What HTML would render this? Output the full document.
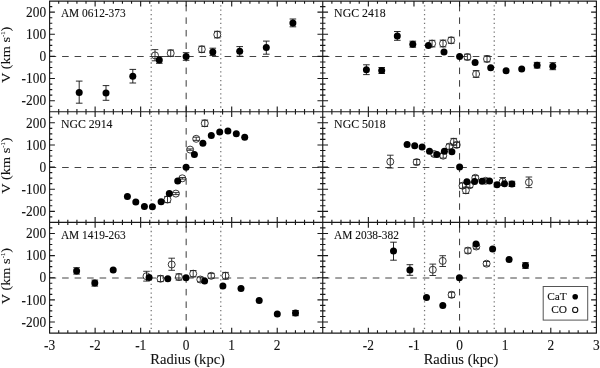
<!DOCTYPE html>
<html lang="en"><head><meta charset="utf-8"><title>Rotation curves</title>
<style>html,body{margin:0;padding:0;background:#fff}svg{display:block}</style></head>
<body>
<svg width="600" height="368" viewBox="0 0 600 368">
<rect x="0" y="0" width="600" height="368" fill="#fff"/>
<line x1="49.60" y1="56.50" x2="322.75" y2="56.50" stroke="#444" stroke-width="1" stroke-dasharray="6.6 5.9"/>
<line x1="186.17" y1="111.75" x2="186.17" y2="1.10" stroke="#3a3a3a" stroke-width="1" stroke-dasharray="6.5 6.05"/>
<line x1="151.21" y1="107.65" x2="151.21" y2="1.10" stroke="#747474" stroke-width="1.25" stroke-dasharray="1.3 3.1"/>
<line x1="220.77" y1="107.65" x2="220.77" y2="1.10" stroke="#747474" stroke-width="1.25" stroke-dasharray="1.3 3.1"/>
<line x1="49.60" y1="167.50" x2="322.75" y2="167.50" stroke="#444" stroke-width="1" stroke-dasharray="6.6 5.9"/>
<line x1="186.17" y1="222.40" x2="186.17" y2="111.75" stroke="#3a3a3a" stroke-width="1" stroke-dasharray="6.5 6.05"/>
<line x1="151.21" y1="218.30" x2="151.21" y2="111.75" stroke="#747474" stroke-width="1.25" stroke-dasharray="1.3 3.1"/>
<line x1="220.77" y1="218.30" x2="220.77" y2="111.75" stroke="#747474" stroke-width="1.25" stroke-dasharray="1.3 3.1"/>
<line x1="49.60" y1="278.00" x2="322.75" y2="278.00" stroke="#444" stroke-width="1" stroke-dasharray="6.6 5.9"/>
<line x1="186.17" y1="333.05" x2="186.17" y2="222.40" stroke="#3a3a3a" stroke-width="1" stroke-dasharray="6.5 6.05"/>
<line x1="151.21" y1="328.95" x2="151.21" y2="222.40" stroke="#747474" stroke-width="1.25" stroke-dasharray="1.3 3.1"/>
<line x1="220.77" y1="328.95" x2="220.77" y2="222.40" stroke="#747474" stroke-width="1.25" stroke-dasharray="1.3 3.1"/>
<line x1="322.75" y1="56.50" x2="596.40" y2="56.50" stroke="#444" stroke-width="1" stroke-dasharray="6.6 5.9"/>
<line x1="459.57" y1="111.75" x2="459.57" y2="1.10" stroke="#3a3a3a" stroke-width="1" stroke-dasharray="6.5 6.05"/>
<line x1="424.55" y1="107.65" x2="424.55" y2="1.10" stroke="#747474" stroke-width="1.25" stroke-dasharray="1.3 3.1"/>
<line x1="494.24" y1="107.65" x2="494.24" y2="1.10" stroke="#747474" stroke-width="1.25" stroke-dasharray="1.3 3.1"/>
<line x1="322.75" y1="167.50" x2="596.40" y2="167.50" stroke="#444" stroke-width="1" stroke-dasharray="6.6 5.9"/>
<line x1="459.57" y1="222.40" x2="459.57" y2="111.75" stroke="#3a3a3a" stroke-width="1" stroke-dasharray="6.5 6.05"/>
<line x1="424.55" y1="218.30" x2="424.55" y2="111.75" stroke="#747474" stroke-width="1.25" stroke-dasharray="1.3 3.1"/>
<line x1="494.24" y1="218.30" x2="494.24" y2="111.75" stroke="#747474" stroke-width="1.25" stroke-dasharray="1.3 3.1"/>
<line x1="322.75" y1="278.00" x2="596.40" y2="278.00" stroke="#444" stroke-width="1" stroke-dasharray="6.6 5.9"/>
<line x1="459.57" y1="333.05" x2="459.57" y2="222.40" stroke="#3a3a3a" stroke-width="1" stroke-dasharray="6.5 6.05"/>
<line x1="424.55" y1="328.95" x2="424.55" y2="222.40" stroke="#747474" stroke-width="1.25" stroke-dasharray="1.3 3.1"/>
<line x1="494.24" y1="328.95" x2="494.24" y2="222.40" stroke="#747474" stroke-width="1.25" stroke-dasharray="1.3 3.1"/>
<circle cx="155.0" cy="55.4" r="3.5" fill="none" stroke="#222" stroke-width="0.9"/>
<path d="M155.0 49.6V60.8M151.7 49.6H158.3M151.7 60.8H158.3" stroke="#222" stroke-width="0.9" fill="none"/>
<circle cx="170.7" cy="53.2" r="3.5" fill="none" stroke="#222" stroke-width="0.9"/>
<path d="M170.7 50.0V56.4M167.4 50.0H174.0M167.4 56.4H174.0" stroke="#222" stroke-width="0.9" fill="none"/>
<circle cx="201.8" cy="49.3" r="3.5" fill="none" stroke="#222" stroke-width="0.9"/>
<path d="M201.8 46.2V52.4M198.5 46.2H205.1M198.5 52.4H205.1" stroke="#222" stroke-width="0.9" fill="none"/>
<circle cx="217.3" cy="34.6" r="3.5" fill="none" stroke="#222" stroke-width="0.9"/>
<path d="M217.3 31.3V37.9M214.0 31.3H220.6M214.0 37.9H220.6" stroke="#222" stroke-width="0.9" fill="none"/>
<path d="M79.2 81.1V103.2M75.9 81.1H82.5M75.9 103.2H82.5" stroke="#111" stroke-width="0.9" fill="none"/>
<circle cx="79.2" cy="92.4" r="3.5" fill="#000"/>
<path d="M106.0 85.6V100.3M102.7 85.6H109.3M102.7 100.3H109.3" stroke="#111" stroke-width="0.9" fill="none"/>
<circle cx="106.0" cy="93.0" r="3.5" fill="#000"/>
<path d="M132.8 69.4V83.0M129.5 69.4H136.1M129.5 83.0H136.1" stroke="#111" stroke-width="0.9" fill="none"/>
<circle cx="132.8" cy="76.2" r="3.5" fill="#000"/>
<path d="M159.3 56.6V63.3M156.0 56.6H162.6M156.0 63.3H162.6" stroke="#111" stroke-width="0.9" fill="none"/>
<circle cx="159.3" cy="59.9" r="3.5" fill="#000"/>
<path d="M186.1 52.7V60.3M182.8 52.7H189.4M182.8 60.3H189.4" stroke="#111" stroke-width="0.9" fill="none"/>
<circle cx="186.1" cy="56.5" r="3.5" fill="#000"/>
<path d="M212.8 48.2V55.6M209.5 48.2H216.1M209.5 55.6H216.1" stroke="#111" stroke-width="0.9" fill="none"/>
<circle cx="212.8" cy="51.9" r="3.5" fill="#000"/>
<path d="M239.7 46.6V56.2M236.4 46.6H243.0M236.4 56.2H243.0" stroke="#111" stroke-width="0.9" fill="none"/>
<circle cx="239.7" cy="51.3" r="3.5" fill="#000"/>
<path d="M266.3 41.1V54.2M263.0 41.1H269.6M263.0 54.2H269.6" stroke="#111" stroke-width="0.9" fill="none"/>
<circle cx="266.3" cy="47.6" r="3.5" fill="#000"/>
<path d="M292.9 19.0V26.8M289.6 19.0H296.2M289.6 26.8H296.2" stroke="#111" stroke-width="0.9" fill="none"/>
<circle cx="292.9" cy="22.9" r="3.5" fill="#000"/>
<circle cx="167.5" cy="199.5" r="3.5" fill="none" stroke="#222" stroke-width="0.9"/>
<path d="M167.5 196.4V202.6M164.2 196.4H170.8M164.2 202.6H170.8" stroke="#222" stroke-width="0.9" fill="none"/>
<circle cx="175.9" cy="193.6" r="3.5" fill="none" stroke="#222" stroke-width="0.9"/>
<path d="M175.9 192.6V194.6M172.6 192.6H179.2M172.6 194.6H179.2" stroke="#222" stroke-width="0.9" fill="none"/>
<circle cx="182.3" cy="178.3" r="3.5" fill="none" stroke="#222" stroke-width="0.9"/>
<path d="M182.3 177.5V179.1M179.0 177.5H185.6M179.0 179.1H185.6" stroke="#222" stroke-width="0.9" fill="none"/>
<circle cx="190.1" cy="149.6" r="3.5" fill="none" stroke="#222" stroke-width="0.9"/>
<path d="M190.1 148.9V150.3M186.8 148.9H193.4M186.8 150.3H193.4" stroke="#222" stroke-width="0.9" fill="none"/>
<circle cx="196.2" cy="138.8" r="3.5" fill="none" stroke="#222" stroke-width="0.9"/>
<path d="M196.2 137.2V140.4M192.9 137.2H199.5M192.9 140.4H199.5" stroke="#222" stroke-width="0.9" fill="none"/>
<circle cx="204.8" cy="123.3" r="3.5" fill="none" stroke="#222" stroke-width="0.9"/>
<path d="M204.8 120.1V126.5M201.5 120.1H208.1M201.5 126.5H208.1" stroke="#222" stroke-width="0.9" fill="none"/>
<circle cx="127.4" cy="196.4" r="3.5" fill="#000"/>
<circle cx="135.8" cy="202.1" r="3.5" fill="#000"/>
<circle cx="144.4" cy="206.4" r="3.5" fill="#000"/>
<circle cx="152.4" cy="206.8" r="3.5" fill="#000"/>
<circle cx="161.1" cy="201.7" r="3.5" fill="#000"/>
<circle cx="169.3" cy="193.4" r="3.5" fill="#000"/>
<circle cx="177.7" cy="180.9" r="3.5" fill="#000"/>
<circle cx="186.1" cy="167.3" r="3.5" fill="#000"/>
<circle cx="194.4" cy="154.6" r="3.5" fill="#000"/>
<circle cx="202.9" cy="143.3" r="3.5" fill="#000"/>
<circle cx="211.3" cy="135.5" r="3.5" fill="#000"/>
<circle cx="219.7" cy="131.9" r="3.5" fill="#000"/>
<circle cx="227.9" cy="131.0" r="3.5" fill="#000"/>
<circle cx="236.3" cy="133.7" r="3.5" fill="#000"/>
<circle cx="244.7" cy="137.2" r="3.5" fill="#000"/>
<circle cx="146.5" cy="276.2" r="3.5" fill="none" stroke="#222" stroke-width="0.9"/>
<path d="M146.5 271.3V281.1M143.2 271.3H149.8M143.2 281.1H149.8" stroke="#222" stroke-width="0.9" fill="none"/>
<circle cx="160.5" cy="278.7" r="3.5" fill="none" stroke="#222" stroke-width="0.9"/>
<path d="M160.5 275.8V281.6M157.2 275.8H163.8M157.2 281.6H163.8" stroke="#222" stroke-width="0.9" fill="none"/>
<circle cx="171.7" cy="264.5" r="3.5" fill="none" stroke="#222" stroke-width="0.9"/>
<path d="M171.7 258.2V270.3M168.4 258.2H175.0M168.4 270.3H175.0" stroke="#222" stroke-width="0.9" fill="none"/>
<circle cx="178.9" cy="277.0" r="3.5" fill="none" stroke="#222" stroke-width="0.9"/>
<path d="M178.9 273.9V280.1M175.6 273.9H182.2M175.6 280.1H182.2" stroke="#222" stroke-width="0.9" fill="none"/>
<circle cx="193.2" cy="273.7" r="3.5" fill="none" stroke="#222" stroke-width="0.9"/>
<path d="M193.2 270.5V276.9M189.9 270.5H196.5M189.9 276.9H196.5" stroke="#222" stroke-width="0.9" fill="none"/>
<circle cx="200.3" cy="279.5" r="3.5" fill="none" stroke="#222" stroke-width="0.9"/>
<path d="M200.3 277.1V281.9M197.0 277.1H203.6M197.0 281.9H203.6" stroke="#222" stroke-width="0.9" fill="none"/>
<circle cx="211.2" cy="275.8" r="3.5" fill="none" stroke="#222" stroke-width="0.9"/>
<path d="M211.2 273.4V278.2M207.9 273.4H214.5M207.9 278.2H214.5" stroke="#222" stroke-width="0.9" fill="none"/>
<circle cx="225.5" cy="275.8" r="3.5" fill="none" stroke="#222" stroke-width="0.9"/>
<path d="M225.5 272.4V279.2M222.2 272.4H228.8M222.2 279.2H228.8" stroke="#222" stroke-width="0.9" fill="none"/>
<path d="M76.6 267.7V274.1M73.3 267.7H79.9M73.3 274.1H79.9" stroke="#111" stroke-width="0.9" fill="none"/>
<circle cx="76.6" cy="270.9" r="3.5" fill="#000"/>
<path d="M94.8 280.1V286.1M91.5 280.1H98.1M91.5 286.1H98.1" stroke="#111" stroke-width="0.9" fill="none"/>
<circle cx="94.8" cy="283.1" r="3.5" fill="#000"/>
<circle cx="113.2" cy="269.9" r="3.5" fill="#000"/>
<circle cx="149.1" cy="277.4" r="3.5" fill="#000"/>
<circle cx="167.8" cy="278.7" r="3.5" fill="#000"/>
<circle cx="186.0" cy="277.8" r="3.5" fill="#000"/>
<circle cx="204.6" cy="281.1" r="3.5" fill="#000"/>
<circle cx="222.9" cy="286.0" r="3.5" fill="#000"/>
<circle cx="241.0" cy="288.6" r="3.5" fill="#000"/>
<circle cx="259.2" cy="300.6" r="3.5" fill="#000"/>
<circle cx="277.3" cy="314.1" r="3.5" fill="#000"/>
<path d="M295.5 310.5V315.7M292.2 310.5H298.8M292.2 315.7H298.8" stroke="#111" stroke-width="0.9" fill="none"/>
<circle cx="295.5" cy="313.1" r="3.5" fill="#000"/>
<circle cx="432.1" cy="43.6" r="3.5" fill="none" stroke="#222" stroke-width="0.9"/>
<path d="M432.1 40.3V46.9M428.8 40.3H435.4M428.8 46.9H435.4" stroke="#222" stroke-width="0.9" fill="none"/>
<circle cx="443.0" cy="43.5" r="3.5" fill="none" stroke="#222" stroke-width="0.9"/>
<path d="M443.0 40.1V46.9M439.7 40.1H446.3M439.7 46.9H446.3" stroke="#222" stroke-width="0.9" fill="none"/>
<circle cx="451.2" cy="40.3" r="3.5" fill="none" stroke="#222" stroke-width="0.9"/>
<path d="M451.2 37.3V43.3M447.9 37.3H454.5M447.9 43.3H454.5" stroke="#222" stroke-width="0.9" fill="none"/>
<circle cx="467.4" cy="57.0" r="3.5" fill="none" stroke="#222" stroke-width="0.9"/>
<path d="M467.4 54.2V59.8M464.1 54.2H470.7M464.1 59.8H470.7" stroke="#222" stroke-width="0.9" fill="none"/>
<circle cx="476.1" cy="74.0" r="3.5" fill="none" stroke="#222" stroke-width="0.9"/>
<path d="M476.1 70.6V77.4M472.8 70.6H479.4M472.8 77.4H479.4" stroke="#222" stroke-width="0.9" fill="none"/>
<circle cx="487.0" cy="58.9" r="3.5" fill="none" stroke="#222" stroke-width="0.9"/>
<path d="M487.0 55.9V61.9M483.7 55.9H490.3M483.7 61.9H490.3" stroke="#222" stroke-width="0.9" fill="none"/>
<path d="M366.4 64.8V74.6M363.1 64.8H369.7M363.1 74.6H369.7" stroke="#111" stroke-width="0.9" fill="none"/>
<circle cx="366.4" cy="69.7" r="3.5" fill="#000"/>
<path d="M381.7 67.5V73.5M378.4 67.5H385.0M378.4 73.5H385.0" stroke="#111" stroke-width="0.9" fill="none"/>
<circle cx="381.7" cy="70.5" r="3.5" fill="#000"/>
<path d="M397.3 31.5V40.3M394.0 31.5H400.6M394.0 40.3H400.6" stroke="#111" stroke-width="0.9" fill="none"/>
<circle cx="397.3" cy="36.0" r="3.5" fill="#000"/>
<path d="M412.8 41.2V47.2M409.5 41.2H416.1M409.5 47.2H416.1" stroke="#111" stroke-width="0.9" fill="none"/>
<circle cx="412.8" cy="44.2" r="3.5" fill="#000"/>
<circle cx="428.4" cy="45.4" r="3.5" fill="#000"/>
<circle cx="444.0" cy="51.9" r="3.5" fill="#000"/>
<circle cx="459.6" cy="56.6" r="3.5" fill="#000"/>
<circle cx="475.1" cy="62.6" r="3.5" fill="#000"/>
<circle cx="490.7" cy="67.7" r="3.5" fill="#000"/>
<circle cx="506.1" cy="70.7" r="3.5" fill="#000"/>
<circle cx="521.7" cy="69.1" r="3.5" fill="#000"/>
<path d="M537.1 62.4V68.0M533.8 62.4H540.4M533.8 68.0H540.4" stroke="#111" stroke-width="0.9" fill="none"/>
<circle cx="537.1" cy="65.2" r="3.5" fill="#000"/>
<path d="M552.8 62.7V69.7M549.5 62.7H556.1M549.5 69.7H556.1" stroke="#111" stroke-width="0.9" fill="none"/>
<circle cx="552.8" cy="66.2" r="3.5" fill="#000"/>
<circle cx="390.3" cy="161.7" r="3.5" fill="none" stroke="#222" stroke-width="0.9"/>
<path d="M390.3 155.2V168.0M387.0 155.2H393.6M387.0 168.0H393.6" stroke="#222" stroke-width="0.9" fill="none"/>
<circle cx="416.7" cy="162.1" r="3.5" fill="none" stroke="#222" stroke-width="0.9"/>
<path d="M416.7 159.5V164.7M413.4 159.5H420.0M413.4 164.7H420.0" stroke="#222" stroke-width="0.9" fill="none"/>
<circle cx="434.2" cy="154.0" r="3.5" fill="none" stroke="#222" stroke-width="0.9"/>
<path d="M434.2 152.0V156.0M430.9 152.0H437.5M430.9 156.0H437.5" stroke="#222" stroke-width="0.9" fill="none"/>
<circle cx="443.2" cy="155.7" r="3.5" fill="none" stroke="#222" stroke-width="0.9"/>
<path d="M443.2 153.3V158.1M439.9 153.3H446.5M439.9 158.1H446.5" stroke="#222" stroke-width="0.9" fill="none"/>
<circle cx="449.3" cy="146.6" r="3.5" fill="none" stroke="#222" stroke-width="0.9"/>
<path d="M449.3 144.0V149.2M446.0 144.0H452.6M446.0 149.2H452.6" stroke="#222" stroke-width="0.9" fill="none"/>
<circle cx="453.8" cy="141.8" r="3.5" fill="none" stroke="#222" stroke-width="0.9"/>
<path d="M453.8 138.4V145.2M450.5 138.4H457.1M450.5 145.2H457.1" stroke="#222" stroke-width="0.9" fill="none"/>
<circle cx="456.7" cy="144.9" r="3.5" fill="none" stroke="#222" stroke-width="0.9"/>
<path d="M456.7 142.3V147.5M453.4 142.3H460.0M453.4 147.5H460.0" stroke="#222" stroke-width="0.9" fill="none"/>
<circle cx="462.5" cy="185.7" r="3.5" fill="none" stroke="#222" stroke-width="0.9"/>
<path d="M462.5 183.1V188.3M459.2 183.1H465.8M459.2 188.3H465.8" stroke="#222" stroke-width="0.9" fill="none"/>
<circle cx="465.9" cy="190.3" r="3.5" fill="none" stroke="#222" stroke-width="0.9"/>
<path d="M465.9 187.1V193.5M462.6 187.1H469.2M462.6 193.5H469.2" stroke="#222" stroke-width="0.9" fill="none"/>
<circle cx="469.8" cy="185.2" r="3.5" fill="none" stroke="#222" stroke-width="0.9"/>
<path d="M469.8 182.8V187.6M466.5 182.8H473.1M466.5 187.6H473.1" stroke="#222" stroke-width="0.9" fill="none"/>
<circle cx="475.3" cy="177.8" r="3.5" fill="none" stroke="#222" stroke-width="0.9"/>
<path d="M475.3 175.6V180.0M472.0 175.6H478.6M472.0 180.0H478.6" stroke="#222" stroke-width="0.9" fill="none"/>
<circle cx="485.6" cy="180.8" r="3.5" fill="none" stroke="#222" stroke-width="0.9"/>
<path d="M485.6 178.6V183.0M482.3 178.6H488.9M482.3 183.0H488.9" stroke="#222" stroke-width="0.9" fill="none"/>
<circle cx="502.7" cy="181.5" r="3.5" fill="none" stroke="#222" stroke-width="0.9"/>
<path d="M502.7 177.5V185.5M499.4 177.5H506.0M499.4 185.5H506.0" stroke="#222" stroke-width="0.9" fill="none"/>
<circle cx="528.9" cy="182.3" r="3.5" fill="none" stroke="#222" stroke-width="0.9"/>
<path d="M528.9 177.0V187.6M525.6 177.0H532.2M525.6 187.6H532.2" stroke="#222" stroke-width="0.9" fill="none"/>
<circle cx="407.1" cy="144.5" r="3.5" fill="#000"/>
<circle cx="414.7" cy="145.8" r="3.5" fill="#000"/>
<circle cx="422.1" cy="147.0" r="3.5" fill="#000"/>
<circle cx="429.5" cy="151.2" r="3.5" fill="#000"/>
<circle cx="436.9" cy="154.4" r="3.5" fill="#000"/>
<circle cx="444.4" cy="151.3" r="3.5" fill="#000"/>
<circle cx="451.9" cy="151.8" r="3.5" fill="#000"/>
<circle cx="459.6" cy="167.0" r="3.5" fill="#000"/>
<circle cx="466.9" cy="181.7" r="3.5" fill="#000"/>
<circle cx="474.6" cy="181.4" r="3.5" fill="#000"/>
<circle cx="482.1" cy="181.3" r="3.5" fill="#000"/>
<circle cx="489.5" cy="181.1" r="3.5" fill="#000"/>
<circle cx="497.0" cy="184.7" r="3.5" fill="#000"/>
<circle cx="504.5" cy="183.8" r="3.5" fill="#000"/>
<path d="M511.9 181.3V186.5M508.6 181.3H515.2M508.6 186.5H515.2" stroke="#111" stroke-width="0.9" fill="none"/>
<circle cx="511.9" cy="183.9" r="3.5" fill="#000"/>
<circle cx="432.8" cy="269.7" r="3.5" fill="none" stroke="#222" stroke-width="0.9"/>
<path d="M432.8 264.1V275.5M429.5 264.1H436.1M429.5 275.5H436.1" stroke="#222" stroke-width="0.9" fill="none"/>
<circle cx="442.7" cy="260.9" r="3.5" fill="none" stroke="#222" stroke-width="0.9"/>
<path d="M442.7 255.7V266.5M439.4 255.7H446.0M439.4 266.5H446.0" stroke="#222" stroke-width="0.9" fill="none"/>
<circle cx="451.6" cy="294.8" r="3.5" fill="none" stroke="#222" stroke-width="0.9"/>
<path d="M451.6 292.2V297.4M448.3 292.2H454.9M448.3 297.4H454.9" stroke="#222" stroke-width="0.9" fill="none"/>
<circle cx="467.9" cy="250.6" r="3.5" fill="none" stroke="#222" stroke-width="0.9"/>
<path d="M467.9 248.0V253.2M464.6 248.0H471.2M464.6 253.2H471.2" stroke="#222" stroke-width="0.9" fill="none"/>
<circle cx="476.3" cy="246.5" r="3.5" fill="none" stroke="#222" stroke-width="0.9"/>
<path d="M476.3 244.1V248.9M473.0 244.1H479.6M473.0 248.9H479.6" stroke="#222" stroke-width="0.9" fill="none"/>
<circle cx="486.6" cy="263.7" r="3.5" fill="none" stroke="#222" stroke-width="0.9"/>
<path d="M486.6 261.5V265.9M483.3 261.5H489.9M483.3 265.9H489.9" stroke="#222" stroke-width="0.9" fill="none"/>
<path d="M393.5 242.2V260.2M390.2 242.2H396.8M390.2 260.2H396.8" stroke="#111" stroke-width="0.9" fill="none"/>
<circle cx="393.5" cy="251.0" r="3.5" fill="#000"/>
<path d="M409.9 264.7V275.3M406.6 264.7H413.2M406.6 275.3H413.2" stroke="#111" stroke-width="0.9" fill="none"/>
<circle cx="409.9" cy="270.0" r="3.5" fill="#000"/>
<circle cx="426.5" cy="297.5" r="3.5" fill="#000"/>
<circle cx="442.8" cy="305.4" r="3.5" fill="#000"/>
<circle cx="459.4" cy="277.8" r="3.5" fill="#000"/>
<circle cx="476.0" cy="244.1" r="3.5" fill="#000"/>
<circle cx="492.6" cy="249.0" r="3.5" fill="#000"/>
<circle cx="509.1" cy="259.6" r="3.5" fill="#000"/>
<path d="M525.5 262.7V268.3M522.2 262.7H528.8M522.2 268.3H528.8" stroke="#111" stroke-width="0.9" fill="none"/>
<circle cx="525.5" cy="265.5" r="3.5" fill="#000"/>
<path d="M58.71 1.10v2.7M58.71 111.75v-2.7M67.81 1.10v2.7M67.81 111.75v-2.7M76.92 1.10v2.7M76.92 111.75v-2.7M86.02 1.10v2.7M86.02 111.75v-2.7M95.12 1.10v5.3M95.12 111.75v-5.3M104.23 1.10v2.7M104.23 111.75v-2.7M113.34 1.10v2.7M113.34 111.75v-2.7M122.44 1.10v2.7M122.44 111.75v-2.7M131.54 1.10v2.7M131.54 111.75v-2.7M140.65 1.10v5.3M140.65 111.75v-5.3M149.75 1.10v2.7M149.75 111.75v-2.7M158.86 1.10v2.7M158.86 111.75v-2.7M167.97 1.10v2.7M167.97 111.75v-2.7M177.07 1.10v2.7M177.07 111.75v-2.7M186.17 1.10v5.3M186.17 111.75v-5.3M195.28 1.10v2.7M195.28 111.75v-2.7M204.38 1.10v2.7M204.38 111.75v-2.7M213.49 1.10v2.7M213.49 111.75v-2.7M222.59 1.10v2.7M222.59 111.75v-2.7M231.70 1.10v5.3M231.70 111.75v-5.3M240.81 1.10v2.7M240.81 111.75v-2.7M249.91 1.10v2.7M249.91 111.75v-2.7M259.01 1.10v2.7M259.01 111.75v-2.7M268.12 1.10v2.7M268.12 111.75v-2.7M277.23 1.10v5.3M277.23 111.75v-5.3M286.33 1.10v2.7M286.33 111.75v-2.7M295.44 1.10v2.7M295.44 111.75v-2.7M304.54 1.10v2.7M304.54 111.75v-2.7M313.65 1.10v2.7M313.65 111.75v-2.7M49.60 106.22h2.7M322.75 106.22h-2.7M49.60 100.69h5.3M322.75 100.69h-5.3M49.60 95.15h2.7M322.75 95.15h-2.7M49.60 89.62h2.7M322.75 89.62h-2.7M49.60 84.09h2.7M322.75 84.09h-2.7M49.60 78.55h5.3M322.75 78.55h-5.3M49.60 73.02h2.7M322.75 73.02h-2.7M49.60 67.49h2.7M322.75 67.49h-2.7M49.60 61.96h2.7M322.75 61.96h-2.7M49.60 56.42h5.3M322.75 56.42h-5.3M49.60 50.89h2.7M322.75 50.89h-2.7M49.60 45.36h2.7M322.75 45.36h-2.7M49.60 39.83h2.7M322.75 39.83h-2.7M49.60 34.30h5.3M322.75 34.30h-5.3M49.60 28.76h2.7M322.75 28.76h-2.7M49.60 23.23h2.7M322.75 23.23h-2.7M49.60 17.70h2.7M322.75 17.70h-2.7M49.60 12.16h5.3M322.75 12.16h-5.3M49.60 6.63h2.7M322.75 6.63h-2.7M58.71 111.75v2.7M58.71 222.40v-2.7M67.81 111.75v2.7M67.81 222.40v-2.7M76.92 111.75v2.7M76.92 222.40v-2.7M86.02 111.75v2.7M86.02 222.40v-2.7M95.12 111.75v5.3M95.12 222.40v-5.3M104.23 111.75v2.7M104.23 222.40v-2.7M113.34 111.75v2.7M113.34 222.40v-2.7M122.44 111.75v2.7M122.44 222.40v-2.7M131.54 111.75v2.7M131.54 222.40v-2.7M140.65 111.75v5.3M140.65 222.40v-5.3M149.75 111.75v2.7M149.75 222.40v-2.7M158.86 111.75v2.7M158.86 222.40v-2.7M167.97 111.75v2.7M167.97 222.40v-2.7M177.07 111.75v2.7M177.07 222.40v-2.7M186.17 111.75v5.3M186.17 222.40v-5.3M195.28 111.75v2.7M195.28 222.40v-2.7M204.38 111.75v2.7M204.38 222.40v-2.7M213.49 111.75v2.7M213.49 222.40v-2.7M222.59 111.75v2.7M222.59 222.40v-2.7M231.70 111.75v5.3M231.70 222.40v-5.3M240.81 111.75v2.7M240.81 222.40v-2.7M249.91 111.75v2.7M249.91 222.40v-2.7M259.01 111.75v2.7M259.01 222.40v-2.7M268.12 111.75v2.7M268.12 222.40v-2.7M277.23 111.75v5.3M277.23 222.40v-5.3M286.33 111.75v2.7M286.33 222.40v-2.7M295.44 111.75v2.7M295.44 222.40v-2.7M304.54 111.75v2.7M304.54 222.40v-2.7M313.65 111.75v2.7M313.65 222.40v-2.7M49.60 216.87h2.7M322.75 216.87h-2.7M49.60 211.33h5.3M322.75 211.33h-5.3M49.60 205.80h2.7M322.75 205.80h-2.7M49.60 200.27h2.7M322.75 200.27h-2.7M49.60 194.74h2.7M322.75 194.74h-2.7M49.60 189.20h5.3M322.75 189.20h-5.3M49.60 183.67h2.7M322.75 183.67h-2.7M49.60 178.14h2.7M322.75 178.14h-2.7M49.60 172.61h2.7M322.75 172.61h-2.7M49.60 167.07h5.3M322.75 167.07h-5.3M49.60 161.54h2.7M322.75 161.54h-2.7M49.60 156.01h2.7M322.75 156.01h-2.7M49.60 150.48h2.7M322.75 150.48h-2.7M49.60 144.94h5.3M322.75 144.94h-5.3M49.60 139.41h2.7M322.75 139.41h-2.7M49.60 133.88h2.7M322.75 133.88h-2.7M49.60 128.35h2.7M322.75 128.35h-2.7M49.60 122.81h5.3M322.75 122.81h-5.3M49.60 117.28h2.7M322.75 117.28h-2.7M58.71 222.40v2.7M58.71 333.05v-2.7M67.81 222.40v2.7M67.81 333.05v-2.7M76.92 222.40v2.7M76.92 333.05v-2.7M86.02 222.40v2.7M86.02 333.05v-2.7M95.12 222.40v5.3M95.12 333.05v-5.3M104.23 222.40v2.7M104.23 333.05v-2.7M113.34 222.40v2.7M113.34 333.05v-2.7M122.44 222.40v2.7M122.44 333.05v-2.7M131.54 222.40v2.7M131.54 333.05v-2.7M140.65 222.40v5.3M140.65 333.05v-5.3M149.75 222.40v2.7M149.75 333.05v-2.7M158.86 222.40v2.7M158.86 333.05v-2.7M167.97 222.40v2.7M167.97 333.05v-2.7M177.07 222.40v2.7M177.07 333.05v-2.7M186.17 222.40v5.3M186.17 333.05v-5.3M195.28 222.40v2.7M195.28 333.05v-2.7M204.38 222.40v2.7M204.38 333.05v-2.7M213.49 222.40v2.7M213.49 333.05v-2.7M222.59 222.40v2.7M222.59 333.05v-2.7M231.70 222.40v5.3M231.70 333.05v-5.3M240.81 222.40v2.7M240.81 333.05v-2.7M249.91 222.40v2.7M249.91 333.05v-2.7M259.01 222.40v2.7M259.01 333.05v-2.7M268.12 222.40v2.7M268.12 333.05v-2.7M277.23 222.40v5.3M277.23 333.05v-5.3M286.33 222.40v2.7M286.33 333.05v-2.7M295.44 222.40v2.7M295.44 333.05v-2.7M304.54 222.40v2.7M304.54 333.05v-2.7M313.65 222.40v2.7M313.65 333.05v-2.7M49.60 327.52h2.7M322.75 327.52h-2.7M49.60 321.99h5.3M322.75 321.99h-5.3M49.60 316.45h2.7M322.75 316.45h-2.7M49.60 310.92h2.7M322.75 310.92h-2.7M49.60 305.39h2.7M322.75 305.39h-2.7M49.60 299.86h5.3M322.75 299.86h-5.3M49.60 294.32h2.7M322.75 294.32h-2.7M49.60 288.79h2.7M322.75 288.79h-2.7M49.60 283.26h2.7M322.75 283.26h-2.7M49.60 277.73h5.3M322.75 277.73h-5.3M49.60 272.19h2.7M322.75 272.19h-2.7M49.60 266.66h2.7M322.75 266.66h-2.7M49.60 261.13h2.7M322.75 261.13h-2.7M49.60 255.60h5.3M322.75 255.60h-5.3M49.60 250.06h2.7M322.75 250.06h-2.7M49.60 244.53h2.7M322.75 244.53h-2.7M49.60 239.00h2.7M322.75 239.00h-2.7M49.60 233.47h5.3M322.75 233.47h-5.3M49.60 227.93h2.7M322.75 227.93h-2.7M331.87 1.10v2.7M331.87 111.75v-2.7M340.99 1.10v2.7M340.99 111.75v-2.7M350.12 1.10v2.7M350.12 111.75v-2.7M359.24 1.10v2.7M359.24 111.75v-2.7M368.36 1.10v5.3M368.36 111.75v-5.3M377.48 1.10v2.7M377.48 111.75v-2.7M386.60 1.10v2.7M386.60 111.75v-2.7M395.72 1.10v2.7M395.72 111.75v-2.7M404.85 1.10v2.7M404.85 111.75v-2.7M413.97 1.10v5.3M413.97 111.75v-5.3M423.09 1.10v2.7M423.09 111.75v-2.7M432.21 1.10v2.7M432.21 111.75v-2.7M441.33 1.10v2.7M441.33 111.75v-2.7M450.45 1.10v2.7M450.45 111.75v-2.7M459.57 1.10v5.3M459.57 111.75v-5.3M468.70 1.10v2.7M468.70 111.75v-2.7M477.82 1.10v2.7M477.82 111.75v-2.7M486.94 1.10v2.7M486.94 111.75v-2.7M496.06 1.10v2.7M496.06 111.75v-2.7M505.18 1.10v5.3M505.18 111.75v-5.3M514.30 1.10v2.7M514.30 111.75v-2.7M523.43 1.10v2.7M523.43 111.75v-2.7M532.55 1.10v2.7M532.55 111.75v-2.7M541.67 1.10v2.7M541.67 111.75v-2.7M550.79 1.10v5.3M550.79 111.75v-5.3M559.91 1.10v2.7M559.91 111.75v-2.7M569.03 1.10v2.7M569.03 111.75v-2.7M578.16 1.10v2.7M578.16 111.75v-2.7M587.28 1.10v2.7M587.28 111.75v-2.7M322.75 106.22h2.7M596.40 106.22h-2.7M322.75 100.69h5.3M596.40 100.69h-5.3M322.75 95.15h2.7M596.40 95.15h-2.7M322.75 89.62h2.7M596.40 89.62h-2.7M322.75 84.09h2.7M596.40 84.09h-2.7M322.75 78.55h5.3M596.40 78.55h-5.3M322.75 73.02h2.7M596.40 73.02h-2.7M322.75 67.49h2.7M596.40 67.49h-2.7M322.75 61.96h2.7M596.40 61.96h-2.7M322.75 56.42h5.3M596.40 56.42h-5.3M322.75 50.89h2.7M596.40 50.89h-2.7M322.75 45.36h2.7M596.40 45.36h-2.7M322.75 39.83h2.7M596.40 39.83h-2.7M322.75 34.30h5.3M596.40 34.30h-5.3M322.75 28.76h2.7M596.40 28.76h-2.7M322.75 23.23h2.7M596.40 23.23h-2.7M322.75 17.70h2.7M596.40 17.70h-2.7M322.75 12.16h5.3M596.40 12.16h-5.3M322.75 6.63h2.7M596.40 6.63h-2.7M331.87 111.75v2.7M331.87 222.40v-2.7M340.99 111.75v2.7M340.99 222.40v-2.7M350.12 111.75v2.7M350.12 222.40v-2.7M359.24 111.75v2.7M359.24 222.40v-2.7M368.36 111.75v5.3M368.36 222.40v-5.3M377.48 111.75v2.7M377.48 222.40v-2.7M386.60 111.75v2.7M386.60 222.40v-2.7M395.72 111.75v2.7M395.72 222.40v-2.7M404.85 111.75v2.7M404.85 222.40v-2.7M413.97 111.75v5.3M413.97 222.40v-5.3M423.09 111.75v2.7M423.09 222.40v-2.7M432.21 111.75v2.7M432.21 222.40v-2.7M441.33 111.75v2.7M441.33 222.40v-2.7M450.45 111.75v2.7M450.45 222.40v-2.7M459.57 111.75v5.3M459.57 222.40v-5.3M468.70 111.75v2.7M468.70 222.40v-2.7M477.82 111.75v2.7M477.82 222.40v-2.7M486.94 111.75v2.7M486.94 222.40v-2.7M496.06 111.75v2.7M496.06 222.40v-2.7M505.18 111.75v5.3M505.18 222.40v-5.3M514.30 111.75v2.7M514.30 222.40v-2.7M523.43 111.75v2.7M523.43 222.40v-2.7M532.55 111.75v2.7M532.55 222.40v-2.7M541.67 111.75v2.7M541.67 222.40v-2.7M550.79 111.75v5.3M550.79 222.40v-5.3M559.91 111.75v2.7M559.91 222.40v-2.7M569.03 111.75v2.7M569.03 222.40v-2.7M578.16 111.75v2.7M578.16 222.40v-2.7M587.28 111.75v2.7M587.28 222.40v-2.7M322.75 216.87h2.7M596.40 216.87h-2.7M322.75 211.33h5.3M596.40 211.33h-5.3M322.75 205.80h2.7M596.40 205.80h-2.7M322.75 200.27h2.7M596.40 200.27h-2.7M322.75 194.74h2.7M596.40 194.74h-2.7M322.75 189.20h5.3M596.40 189.20h-5.3M322.75 183.67h2.7M596.40 183.67h-2.7M322.75 178.14h2.7M596.40 178.14h-2.7M322.75 172.61h2.7M596.40 172.61h-2.7M322.75 167.07h5.3M596.40 167.07h-5.3M322.75 161.54h2.7M596.40 161.54h-2.7M322.75 156.01h2.7M596.40 156.01h-2.7M322.75 150.48h2.7M596.40 150.48h-2.7M322.75 144.94h5.3M596.40 144.94h-5.3M322.75 139.41h2.7M596.40 139.41h-2.7M322.75 133.88h2.7M596.40 133.88h-2.7M322.75 128.35h2.7M596.40 128.35h-2.7M322.75 122.81h5.3M596.40 122.81h-5.3M322.75 117.28h2.7M596.40 117.28h-2.7M331.87 222.40v2.7M331.87 333.05v-2.7M340.99 222.40v2.7M340.99 333.05v-2.7M350.12 222.40v2.7M350.12 333.05v-2.7M359.24 222.40v2.7M359.24 333.05v-2.7M368.36 222.40v5.3M368.36 333.05v-5.3M377.48 222.40v2.7M377.48 333.05v-2.7M386.60 222.40v2.7M386.60 333.05v-2.7M395.72 222.40v2.7M395.72 333.05v-2.7M404.85 222.40v2.7M404.85 333.05v-2.7M413.97 222.40v5.3M413.97 333.05v-5.3M423.09 222.40v2.7M423.09 333.05v-2.7M432.21 222.40v2.7M432.21 333.05v-2.7M441.33 222.40v2.7M441.33 333.05v-2.7M450.45 222.40v2.7M450.45 333.05v-2.7M459.57 222.40v5.3M459.57 333.05v-5.3M468.70 222.40v2.7M468.70 333.05v-2.7M477.82 222.40v2.7M477.82 333.05v-2.7M486.94 222.40v2.7M486.94 333.05v-2.7M496.06 222.40v2.7M496.06 333.05v-2.7M505.18 222.40v5.3M505.18 333.05v-5.3M514.30 222.40v2.7M514.30 333.05v-2.7M523.43 222.40v2.7M523.43 333.05v-2.7M532.55 222.40v2.7M532.55 333.05v-2.7M541.67 222.40v2.7M541.67 333.05v-2.7M550.79 222.40v5.3M550.79 333.05v-5.3M559.91 222.40v2.7M559.91 333.05v-2.7M569.03 222.40v2.7M569.03 333.05v-2.7M578.16 222.40v2.7M578.16 333.05v-2.7M587.28 222.40v2.7M587.28 333.05v-2.7M322.75 327.52h2.7M596.40 327.52h-2.7M322.75 321.99h5.3M596.40 321.99h-5.3M322.75 316.45h2.7M596.40 316.45h-2.7M322.75 310.92h2.7M596.40 310.92h-2.7M322.75 305.39h2.7M596.40 305.39h-2.7M322.75 299.86h5.3M596.40 299.86h-5.3M322.75 294.32h2.7M596.40 294.32h-2.7M322.75 288.79h2.7M596.40 288.79h-2.7M322.75 283.26h2.7M596.40 283.26h-2.7M322.75 277.73h5.3M596.40 277.73h-5.3M322.75 272.19h2.7M596.40 272.19h-2.7M322.75 266.66h2.7M596.40 266.66h-2.7M322.75 261.13h2.7M596.40 261.13h-2.7M322.75 255.60h5.3M596.40 255.60h-5.3M322.75 250.06h2.7M596.40 250.06h-2.7M322.75 244.53h2.7M596.40 244.53h-2.7M322.75 239.00h2.7M596.40 239.00h-2.7M322.75 233.47h5.3M596.40 233.47h-5.3M322.75 227.93h2.7M596.40 227.93h-2.7" stroke="#1a1a1a" stroke-width="1.12" fill="none"/>
<path d="M49.10 1.10H596.90M49.10 111.75H596.90M49.10 222.40H596.90M49.10 333.05H596.90M49.60 1.10V333.05M322.75 1.10V333.05M596.40 1.10V333.05" stroke="#1a1a1a" stroke-width="1.15" fill="none"/>
<g font-family='"Liberation Serif", serif' fill="#111" stroke="#111" stroke-width="0.1">
<text x="60.9" y="17.4" font-size="11.6" textLength="64.8" lengthAdjust="spacingAndGlyphs">AM 0612-373</text>
<text x="60.9" y="128.1" font-size="11.6" textLength="51.6" lengthAdjust="spacingAndGlyphs">NGC 2914</text>
<text x="60.9" y="238.7" font-size="11.6" textLength="64.8" lengthAdjust="spacingAndGlyphs">AM 1419-263</text>
<text x="334.1" y="17.4" font-size="11.6" textLength="51.6" lengthAdjust="spacingAndGlyphs">NGC 2418</text>
<text x="334.1" y="128.1" font-size="11.6" textLength="51.6" lengthAdjust="spacingAndGlyphs">NGC 5018</text>
<text x="334.1" y="238.7" font-size="11.6" textLength="64.8" lengthAdjust="spacingAndGlyphs">AM 2038-382</text>
<text transform="translate(46.1 16.9) scale(0.93 1)" font-size="14.4" text-anchor="end">200</text>
<text transform="translate(46.1 39.0) scale(0.93 1)" font-size="14.4" text-anchor="end">100</text>
<text transform="translate(46.1 61.1) scale(0.93 1)" font-size="14.4" text-anchor="end">0</text>
<text transform="translate(46.1 83.3) scale(0.93 1)" font-size="14.4" text-anchor="end">-100</text>
<text transform="translate(46.1 105.4) scale(0.93 1)" font-size="14.4" text-anchor="end">-200</text>
<text transform="translate(10.2 54.8) rotate(-90) scale(1.12 1)" font-size="12.8" text-anchor="middle">V (km s<tspan font-size="6" dy="-5">-1</tspan><tspan dy="5">)</tspan></text>
<text transform="translate(46.1 127.5) scale(0.93 1)" font-size="14.4" text-anchor="end">200</text>
<text transform="translate(46.1 149.6) scale(0.93 1)" font-size="14.4" text-anchor="end">100</text>
<text transform="translate(46.1 171.8) scale(0.93 1)" font-size="14.4" text-anchor="end">0</text>
<text transform="translate(46.1 193.9) scale(0.93 1)" font-size="14.4" text-anchor="end">-100</text>
<text transform="translate(46.1 216.0) scale(0.93 1)" font-size="14.4" text-anchor="end">-200</text>
<text transform="translate(10.2 165.5) rotate(-90) scale(1.12 1)" font-size="12.8" text-anchor="middle">V (km s<tspan font-size="6" dy="-5">-1</tspan><tspan dy="5">)</tspan></text>
<text transform="translate(46.1 238.2) scale(0.93 1)" font-size="14.4" text-anchor="end">200</text>
<text transform="translate(46.1 260.3) scale(0.93 1)" font-size="14.4" text-anchor="end">100</text>
<text transform="translate(46.1 282.4) scale(0.93 1)" font-size="14.4" text-anchor="end">0</text>
<text transform="translate(46.1 304.6) scale(0.93 1)" font-size="14.4" text-anchor="end">-100</text>
<text transform="translate(46.1 326.7) scale(0.93 1)" font-size="14.4" text-anchor="end">-200</text>
<text transform="translate(10.2 276.1) rotate(-90) scale(1.12 1)" font-size="12.8" text-anchor="middle">V (km s<tspan font-size="6" dy="-5">-1</tspan><tspan dy="5">)</tspan></text>
<text transform="translate(49.6 349.8) scale(0.93 1)" font-size="14.4" text-anchor="middle">-3</text>
<text transform="translate(95.1 349.8) scale(0.93 1)" font-size="14.4" text-anchor="middle">-2</text>
<text transform="translate(140.7 349.8) scale(0.93 1)" font-size="14.4" text-anchor="middle">-1</text>
<text transform="translate(186.2 349.8) scale(0.93 1)" font-size="14.4" text-anchor="middle">0</text>
<text transform="translate(231.7 349.8) scale(0.93 1)" font-size="14.4" text-anchor="middle">1</text>
<text transform="translate(277.2 349.8) scale(0.93 1)" font-size="14.4" text-anchor="middle">2</text>
<text transform="translate(187.6 364.2) scale(1.07 1)" font-size="13.6" text-anchor="middle">Radius (kpc)</text>
<text transform="translate(368.4 349.8) scale(0.93 1)" font-size="14.4" text-anchor="middle">-2</text>
<text transform="translate(414.0 349.8) scale(0.93 1)" font-size="14.4" text-anchor="middle">-1</text>
<text transform="translate(459.6 349.8) scale(0.93 1)" font-size="14.4" text-anchor="middle">0</text>
<text transform="translate(505.2 349.8) scale(0.93 1)" font-size="14.4" text-anchor="middle">1</text>
<text transform="translate(550.8 349.8) scale(0.93 1)" font-size="14.4" text-anchor="middle">2</text>
<text transform="translate(596.4 349.8) scale(0.93 1)" font-size="14.4" text-anchor="middle">3</text>
<text transform="translate(461.0 364.2) scale(1.07 1)" font-size="13.6" text-anchor="middle">Radius (kpc)</text>
<rect x="543.2" y="286.5" width="44.5" height="33.6" fill="#fff" stroke="#555" stroke-width="1"/>
<text x="566.8" y="300.2" font-size="11.4" text-anchor="end">CaT</text>
<text x="567.0" y="313.4" font-size="11.4" text-anchor="end">CO</text>
</g>
<circle cx="575.2" cy="296.7" r="2.8" fill="#000"/>
<circle cx="575.2" cy="309.9" r="2.6" fill="#fff" stroke="#111" stroke-width="1.1"/>
</svg>
</body></html>
